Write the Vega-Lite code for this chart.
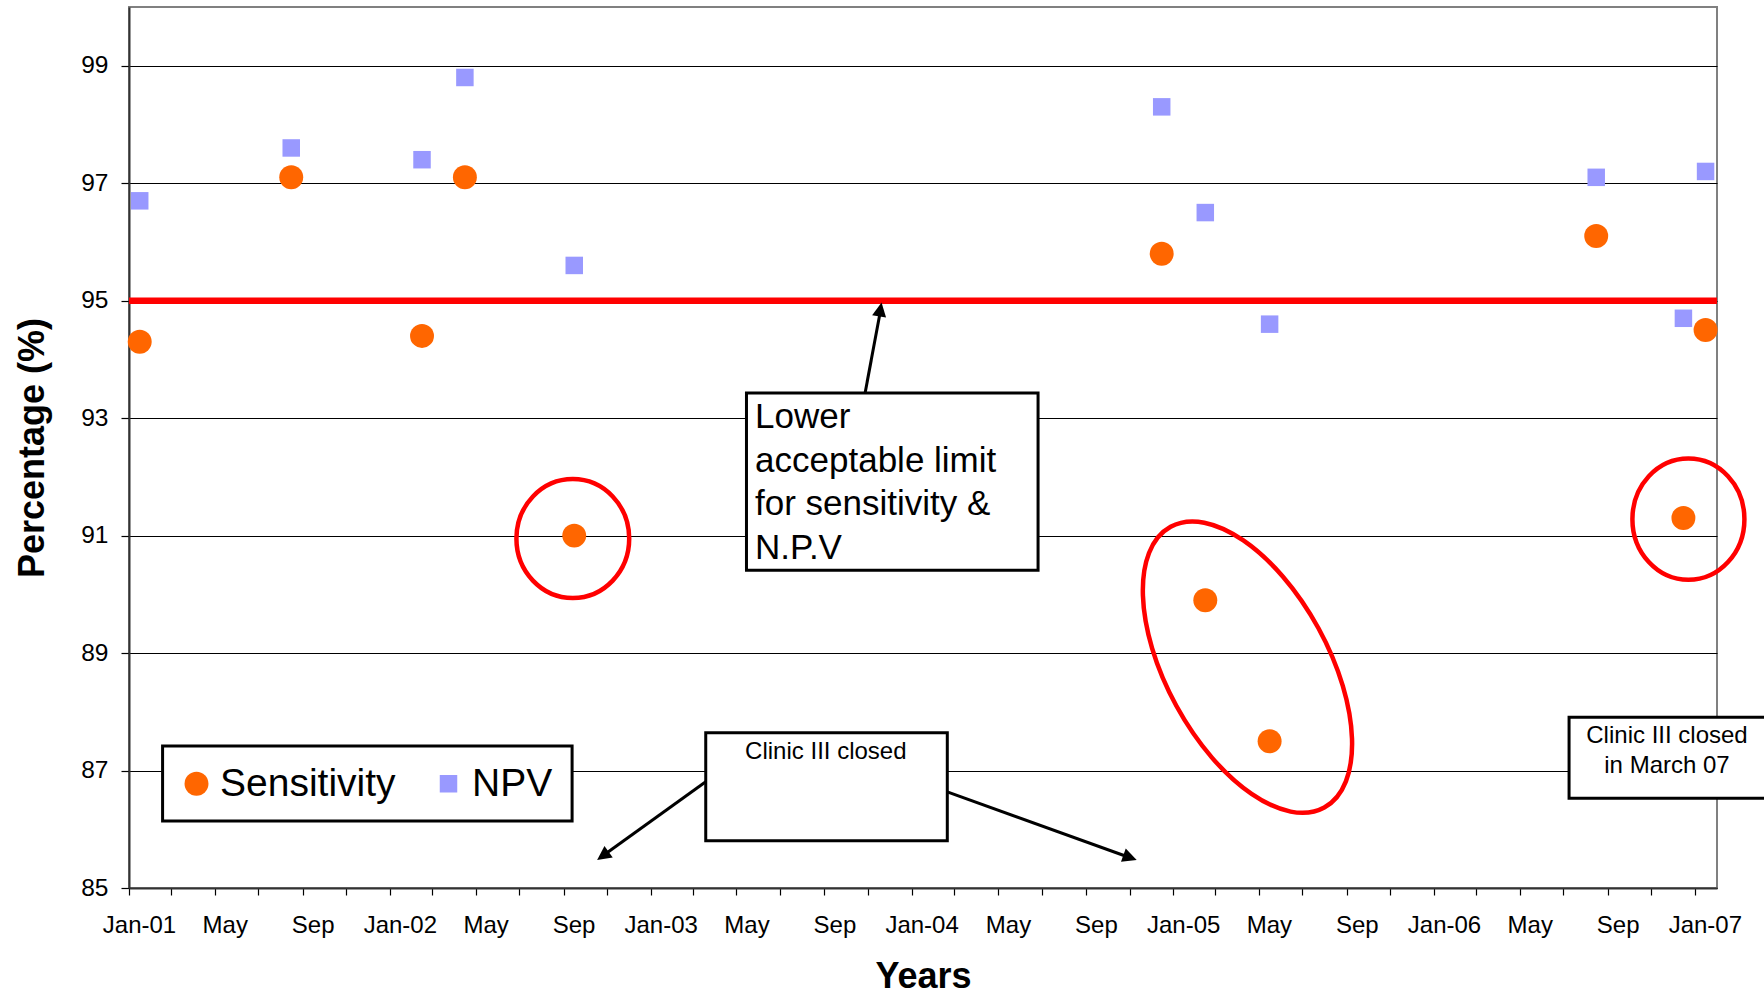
{
  "$schema": "https://vega.github.io/schema/vega-lite/v6.json",
  "width": 1588,
  "height": 881,
  "autosize": {"type": "none"},
  "padding": {"left": 129, "top": 7, "right": 47, "bottom": 107},
  "background": "white",
  "config": {
    "font": "Liberation Sans",
    "view": {"stroke": "#808080", "strokeWidth": 2},
    "axis": {
      "labelFont": "Liberation Sans",
      "titleFont": "Liberation Sans",
      "labelColor": "black",
      "titleColor": "black",
      "domainColor": "#333333",
      "domainWidth": 2,
      "tickColor": "black",
      "tickWidth": 1.2
    }
  },
  "layer": [
    {
      "data": {"values": [{"value": 95}]},
      "mark": {"type": "rule", "color": "#FF0000", "strokeWidth": 6.5},
      "encoding": {
        "y": {"field": "value", "type": "quantitative"}
      }
    },
    {
      "data": {"values": [
        {"date": "2001-01-16", "series": "NPV", "value": 96.7},
        {"date": "2001-08-16", "series": "NPV", "value": 97.6},
        {"date": "2002-02-15", "series": "NPV", "value": 97.4},
        {"date": "2002-04-16", "series": "NPV", "value": 98.8},
        {"date": "2002-09-16", "series": "NPV", "value": 95.6},
        {"date": "2004-12-16", "series": "NPV", "value": 98.3},
        {"date": "2005-02-15", "series": "NPV", "value": 96.5},
        {"date": "2005-05-16", "series": "NPV", "value": 94.6},
        {"date": "2006-08-16", "series": "NPV", "value": 97.1},
        {"date": "2006-12-16", "series": "NPV", "value": 94.7},
        {"date": "2007-01-16", "series": "NPV", "value": 97.2},
        {"date": "2001-01-16", "series": "Sensitivity", "value": 94.3},
        {"date": "2001-08-16", "series": "Sensitivity", "value": 97.1},
        {"date": "2002-02-15", "series": "Sensitivity", "value": 94.4},
        {"date": "2002-04-16", "series": "Sensitivity", "value": 97.1},
        {"date": "2002-09-16", "series": "Sensitivity", "value": 91.0},
        {"date": "2004-12-16", "series": "Sensitivity", "value": 95.8},
        {"date": "2005-02-15", "series": "Sensitivity", "value": 89.9},
        {"date": "2005-05-16", "series": "Sensitivity", "value": 87.5},
        {"date": "2006-08-16", "series": "Sensitivity", "value": 96.1},
        {"date": "2006-12-16", "series": "Sensitivity", "value": 91.3},
        {"date": "2007-01-16", "series": "Sensitivity", "value": 94.5}
      ]},
      "mark": {"type": "point", "filled": true, "opacity": 1, "strokeWidth": 0},
      "encoding": {
        "x": {
          "field": "date", "type": "temporal",
          "scale": {"type": "utc", "nice": false, "domain": [{"year": 2001, "month": 1, "date": 1, "utc": true}, {"year": 2007, "month": 2, "date": 1, "utc": true}]},
          "axis": {
            "title": "Years",
            "tickCount": {"interval": "month", "step": 2},
            "labelExpr": "utcmonth(datum.value) == 0 ? utcFormat(datum.value, '%b-%y') : utcmonth(datum.value) == 4 ? 'May' : utcmonth(datum.value) == 8 ? 'Sep' : ''",
            "labelOffset": 10,
            "labelFontSize": 24,
            "labelPadding": 18.5,
            "labelAngle": 0,
            "labelOverlap": false,
            "labelFlush": false,
            "tickSize": 7,
            "grid": false,
            "titleFontSize": 36,
            "titleFontWeight": "bold",
            "titlePadding": 22
          }
        },
        "y": {
          "field": "value", "type": "quantitative",
          "scale": {"domain": [85, 100], "nice": false, "zero": false},
          "axis": {
            "title": "Percentage (%)",
            "values": [85, 87, 89, 91, 93, 95, 97, 99],
            "format": "d",
            "grid": true,
            "gridColor": "black",
            "gridWidth": 1,
            "tickSize": 8,
            "labelFontSize": 24.5,
            "labelPadding": 13,
            "titleFontSize": 36,
            "titleFontWeight": "bold",
            "titlePadding": 29
          }
        },
        "color": {
          "field": "series", "type": "nominal",
          "scale": {"domain": ["Sensitivity", "NPV"], "range": ["#FF6600", "#9999FF"]},
          "legend": {
            "title": null,
            "orient": "none",
            "legendX": 30,
            "legendY": 739,
            "direction": "horizontal",
            "labelFontSize": 39,
            "labelFont": "Liberation Sans",
            "labelColor": "black",
            "labelOffset": 4,
            "labelLimit": 0,
            "columnPadding": 33,
            "padding": 18,
            "symbolStrokeWidth": 0,
            "symbolOpacity": 1
          }
        },
        "shape": {"field": "series", "type": "nominal", "scale": {"domain": ["Sensitivity", "NPV"], "range": ["circle", "square"]}},
        "size": {"field": "series", "type": "nominal", "scale": {"domain": ["Sensitivity", "NPV"], "range": [573, 306]}}
      }
    },
    {
      "data": {"values": [
        {"date": "2001-02-17", "date2": "2002-09-13", "value": 87.418, "value2": 86.141},
        {"date": "2003-05-15", "date2": "2004-06-26", "value": 93.43, "value2": 90.41},
        {"date": "2003-03-19", "date2": "2004-02-20", "value": 87.644, "value2": 85.805},
        {"date": "2006-07-09", "date2": "2007-06-01", "value": 87.906, "value2": 86.527}
      ]},
      "mark": {"type": "rect", "fill": "white", "stroke": "black", "strokeWidth": 3},
      "encoding": {
        "x": {"field": "date", "type": "temporal"},
        "x2": {"field": "date2"},
        "y": {"field": "value", "type": "quantitative"},
        "y2": {"field": "value2"}
      }
    },
    {
      "data": {"values": [
        {"date": "2003-10-28", "value": 93.43, "date2": "2003-11-18", "value2": 94.8},
        {"date": "2003-03-19", "value": 86.81, "date2": "2002-10-27", "value2": 85.557},
        {"date": "2004-02-19", "value": 86.64, "date2": "2004-10-31", "value2": 85.523}
      ]},
      "mark": {"type": "rule", "color": "black", "strokeWidth": 3},
      "encoding": {
        "x": {"field": "date", "type": "temporal"},
        "x2": {"field": "date2"},
        "y": {"field": "value", "type": "quantitative"},
        "y2": {"field": "value2"}
      }
    },
    {
      "data": {"values": [{"date": "2003-11-20", "value": 94.97}]},
      "mark": {"type": "point", "shape": "M0,0L-0.5,1L0.5,1Z", "size": 800, "angle": 10, "filled": true, "color": "black", "opacity": 1, "strokeWidth": 0},
      "encoding": {
        "x": {"field": "date", "type": "temporal"},
        "y": {"field": "value", "type": "quantitative"}
      }
    },
    {
      "data": {"values": [{"date": "2002-10-18", "value": 85.477}]},
      "mark": {"type": "point", "shape": "M0,0L-0.5,1L0.5,1Z", "size": 800, "angle": 234.3, "filled": true, "color": "black", "opacity": 1, "strokeWidth": 0},
      "encoding": {
        "x": {"field": "date", "type": "temporal"},
        "y": {"field": "value", "type": "quantitative"}
      }
    },
    {
      "data": {"values": [{"date": "2004-11-11", "value": 85.477}]},
      "mark": {"type": "point", "shape": "M0,0L-0.5,1L0.5,1Z", "size": 800, "angle": 109.7, "filled": true, "color": "black", "opacity": 1, "strokeWidth": 0},
      "encoding": {
        "x": {"field": "date", "type": "temporal"},
        "y": {"field": "value", "type": "quantitative"}
      }
    },
    {
      "data": {"values": [{"date": "2002-09-14", "value": 90.95}]},
      "mark": {"type": "point", "shape": "M1,0C1,0.5827 0.5523,1.055 0,1.055C-0.5523,1.055 -1,0.5827 -1,0C-1,-0.5827 -0.5523,-1.055 0,-1.055C0.5523,-1.055 1,-0.5827 1,0Z", "size": 12723, "filled": false, "color": "#FF0000", "strokeWidth": 4.5, "opacity": 1},
      "encoding": {
        "x": {"field": "date", "type": "temporal"},
        "y": {"field": "value", "type": "quantitative"}
      }
    },
    {
      "data": {"values": [{"date": "2006-12-23", "value": 91.28}]},
      "mark": {"type": "point", "shape": "M1,0C1,0.5976 0.5523,1.082 0,1.082C-0.5523,1.082 -1,0.5976 -1,0C-1,-0.5976 -0.5523,-1.082 0,-1.082C0.5523,-1.082 1,-0.5976 1,0Z", "size": 12544, "filled": false, "color": "#FF0000", "strokeWidth": 4.5, "opacity": 1},
      "encoding": {
        "x": {"field": "date", "type": "temporal"},
        "y": {"field": "value", "type": "quantitative"}
      }
    },
    {
      "data": {"values": [{"date": "2005-04-15", "value": 88.76}]},
      "mark": {"type": "point", "shape": "M1,0C1,0.2795 0.5523,0.506 0,0.506C-0.5523,0.506 -1,0.2795 -1,0C-1,-0.2795 -0.5523,-0.506 0,-0.506C0.5523,-0.506 1,-0.2795 1,0Z", "size": 102400, "angle": 61.3, "filled": false, "color": "#FF0000", "strokeWidth": 4.5, "opacity": 1},
      "encoding": {
        "x": {"field": "date", "type": "temporal"},
        "y": {"field": "value", "type": "quantitative"}
      }
    },
    {
      "data": {"values": [{"date": "2003-05-27", "value": 92.832, "label": "Lower\nacceptable limit\nfor sensitivity &\nN.P.V"}]},
      "mark": {"type": "text", "align": "left", "baseline": "alphabetic", "fontSize": 35, "lineHeight": 43.5, "lineBreak": "\n", "color": "black", "font": "Liberation Sans"},
      "encoding": {
        "x": {"field": "date", "type": "temporal"},
        "y": {"field": "value", "type": "quantitative"},
        "text": {"field": "label", "type": "nominal"}
      }
    },
    {
      "data": {"values": [
        {"date": "2003-09-03", "value": 87.2, "label": "Clinic III closed"},
        {"date": "2006-11-23", "value": 87.474, "label": "Clinic III closed\nin March 07"}
      ]},
      "mark": {"type": "text", "align": "center", "baseline": "alphabetic", "fontSize": 24, "lineHeight": 30.3, "lineBreak": "\n", "color": "black", "font": "Liberation Sans"},
      "encoding": {
        "x": {"field": "date", "type": "temporal"},
        "y": {"field": "value", "type": "quantitative"},
        "text": {"field": "label", "type": "nominal"}
      }
    }
  ]
}
